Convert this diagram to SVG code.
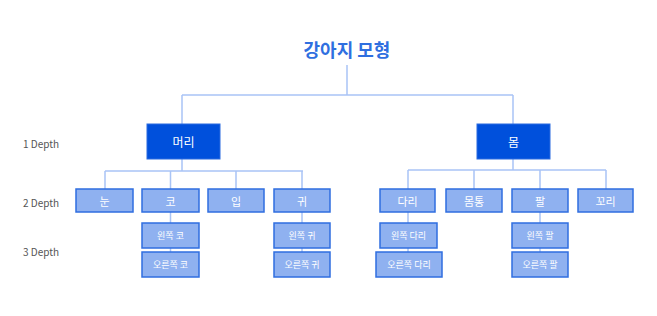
<svg xmlns="http://www.w3.org/2000/svg" width="657" height="316" viewBox="0 0 657 316">
<style>
text{font-family:"Noto Sans CJK KR","Noto Sans",sans-serif;text-anchor:middle;dominant-baseline:central}
.title{font-size:18px;font-weight:700;fill:#2f6fe0}
.depth{font-size:10px;fill:#555;text-anchor:start}
.l1 rect{fill:#0050dc;stroke:#2a6be0;stroke-width:1}
.l1 text{fill:#fff;font-size:12px}
.l2 rect{fill:#8fb1f0;stroke:#2f6ee0;stroke-width:1.5}
.l2 text{fill:#fff;font-size:11px}
.l3 rect{fill:#8fb1f0;stroke:#2f6ee0;stroke-width:1.5}
.l3 text{fill:#fff;font-size:9px}
.conn path{fill:none;stroke:#a9c4f6;stroke-width:1.5}
</style>
<rect width="657" height="316" fill="#fff"/>
<text class="title" x="347" y="49">강아지 모형</text>
<text class="depth" x="23" y="143">1 Depth</text>
<text class="depth" x="23" y="202">2 Depth</text>
<text class="depth" x="23" y="251">3 Depth</text>
<g class="conn">
<path d="M347 65V95M182 95H513M182 95V124M513 95V124"/>
<path d="M182 159V171M105 171H303M105 171V189M170.5 171V189M236 171V189M302 171V189"/>
<path d="M513 159V170M408 170H606M408 170V189M474 170V189M540 170V189M606 170V189"/>
<path d="M170.5 212V223M170.5 248V252M302 212V223M302 248V252"/>
<path d="M408 212V223M408 248V252M540 212V223M540 248V252"/>
</g>
<g id="head" class="l1"><rect x="147" y="124" width="73" height="35"/><text x="183.5" y="141.5">머리</text></g>
<g id="body" class="l1"><rect x="477" y="124" width="73" height="35"/><text x="513.5" y="141.5">몸</text></g>
<g id="eye" class="l2"><rect x="76" y="189" width="57" height="23"/><text x="104.5" y="200.5">눈</text></g>
<g id="nose" class="l2"><rect x="142" y="189" width="57" height="23"/><text x="170.5" y="200.5">코</text></g>
<g id="mouth" class="l2"><rect x="208" y="189" width="56" height="23"/><text x="236" y="200.5">입</text></g>
<g id="ear" class="l2"><rect x="274" y="189" width="56" height="23"/><text x="302" y="200.5">귀</text></g>
<g id="leg" class="l2"><rect x="380" y="189" width="55" height="23"/><text x="407.5" y="200.5">다리</text></g>
<g id="torso" class="l2"><rect x="446" y="189" width="56" height="23"/><text x="474" y="200.5">몸통</text></g>
<g id="arm" class="l2"><rect x="512" y="189" width="56" height="23"/><text x="540" y="200.5">팔</text></g>
<g id="tail" class="l2"><rect x="578" y="189" width="55" height="23"/><text x="605.5" y="200.5">꼬리</text></g>
<g id="nose-l" class="l3"><rect x="142" y="223" width="57" height="25"/><text x="170.5" y="235.5">왼쪽 코</text></g>
<g id="nose-r" class="l3"><rect x="142" y="252" width="57" height="25"/><text x="170.5" y="264.5">오른쪽 코</text></g>
<g id="ear-l" class="l3"><rect x="274" y="223" width="56" height="25"/><text x="302" y="235.5">왼쪽 귀</text></g>
<g id="ear-r" class="l3"><rect x="274" y="252" width="56" height="25"/><text x="302" y="264.5">오른쪽 귀</text></g>
<g id="leg-l" class="l3"><rect x="380" y="223" width="57" height="25"/><text x="408.5" y="235.5">왼쪽 다리</text></g>
<g id="leg-r" class="l3"><rect x="376" y="252" width="66" height="25"/><text x="409" y="264.5">오른쪽 다리</text></g>
<g id="arm-l" class="l3"><rect x="512" y="223" width="56" height="25"/><text x="540" y="235.5">왼쪽 팔</text></g>
<g id="arm-r" class="l3"><rect x="512" y="252" width="56" height="25"/><text x="540" y="264.5">오른쪽 팔</text></g>
</svg>
